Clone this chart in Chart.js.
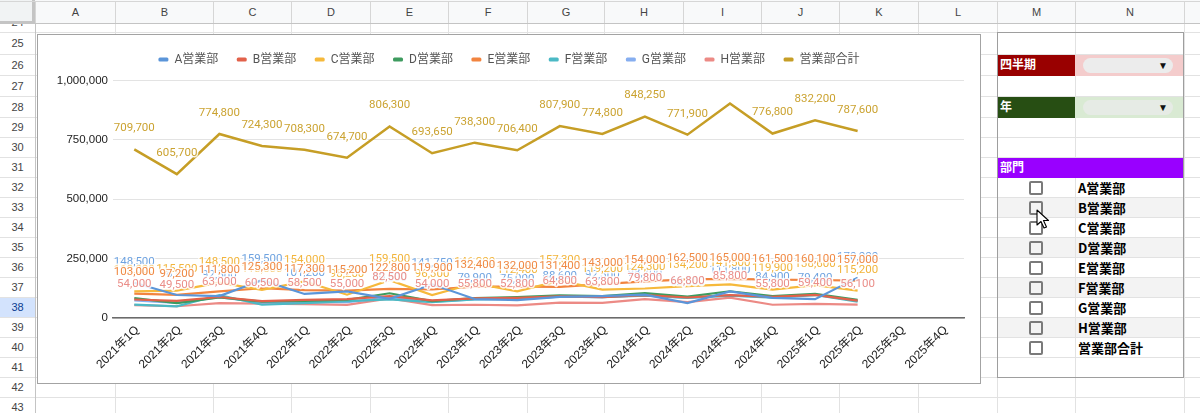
<!DOCTYPE html>
<html><head><meta charset="utf-8">
<script src="https://cdn.jsdelivr.net/npm/chart.js@4"></script>
<style>
html,body{margin:0;padding:0;}
body{width:1200px;height:413px;overflow:hidden;background:#fff;position:relative;font-family:"Liberation Sans",Arial,"Noto Sans CJK JP",sans-serif;}
#sheet{position:absolute;left:0;top:0;width:1200px;height:413px;}
#chartBox{position:absolute;left:37px;top:34px;width:942px;height:348px;border:1px solid #a3a3a3;background:#fff;}
#c{display:block;}
</style></head><body>
<div id="sheet"></div>
<div id="chartBox"><canvas id="c" width="942" height="348" style="width:942px;height:348px"></canvas></div>
<script>
// ---------- data ----------
const quarters = ['2021年1Q','2021年2Q','2021年3Q','2021年4Q','2022年1Q','2022年2Q','2022年3Q','2022年4Q',
  '2023年1Q','2023年2Q','2023年3Q','2023年4Q','2024年1Q','2024年2Q','2024年3Q','2024年4Q',
  '2025年1Q','2025年2Q','2025年3Q','2025年4Q'];
const seriesNames = ['A営業部','B営業部','C営業部','D営業部','E営業部','F営業部','G営業部','H営業部','営業部合計'];
const deptA = [148500,96800,92500,159500,101200,112400,80500,141750,79900,75000,88600,92300,98700,62500,111800,84900,79400,170000];
const deptB = [78000,72000,88400,71200,76400,79200,91800,74200,82600,84800,90800,88200,96400,86400,96300,88600,97200,72800];
const deptC = [112000,115500,148500,118600,154000,98200,159500,96300,146200,112400,157300,119200,124300,134200,141500,119900,138600,115200];
const deptD = [83500,62300,86500,68900,71600,76800,104200,71500,84300,88300,95400,92700,104650,90300,112600,92400,101800,76400];
const deptE = [103000,97200,111800,125300,117300,115200,122800,119900,132400,132000,131400,143000,154000,162500,165000,161500,160100,157000];
const deptF = [56200,48900,96600,55800,62800,71400,78500,66800,78600,80600,89600,87600,94200,84700,94500,86200,96700,68600];
const deptG = [74500,63500,87500,64500,66500,66500,86500,69200,78500,80500,90000,88000,96200,84500,95500,87500,99000,71500];
const deptH = [54000,49500,63000,60500,58500,55000,82500,54000,55800,52800,64800,63800,79800,66800,85800,55800,59400,56100];
const totalAll = [709700,605700,774800,724300,708300,674700,806300,693650,738300,706400,807900,774800,848250,771900,903000,776800,832200,787600];
const totalLabelSkip = [14];
const yTicks = [0,250000,500000,750000,1000000];

// ---------- spreadsheet background ----------
const sheet = document.getElementById('sheet');
function box(x,y,w,h,style,html){
  const d=document.createElement('div');
  d.style.cssText=`position:absolute;left:${x}px;top:${y}px;width:${w}px;height:${h}px;box-sizing:border-box;${style||''}`;
  if(html!=null) d.innerHTML=html;
  sheet.appendChild(d); return d;
}
const colLetters=['A','B','C','D','E','F','G','H','I','J','K','L','M','N','O'];
const colEdges=[35,115,213,291,370,448,527,604,683,761,839,918,997,1075,1184,1290];
const rowNums=[24,25,26,27,28,29,30,31,32,33,34,35,36,37,38,39,40,41,42,43];
const rowEdges=[11,32,54,75,96,117,137,157,177,197,217,237,257,277,297,317,337,357,377,397,417];
for(let i=0;i<colEdges.length;i++) box(colEdges[i],24,1,400,'background:#e2e2e2;');
for(let i=1;i<rowEdges.length;i++) box(0,rowEdges[i],1200,1,'background:#e2e2e2;');
for(let i=0;i<rowNums.length;i++){
  const y0=rowEdges[i], h=rowEdges[i+1]-y0;
  const sel = rowNums[i]===38;
  box(0,y0+1,35,h-1,`background:${sel?'#d3e3fd':'#fff'};color:${sel?'#0b3d91':'#444'};font-size:11px;text-align:center;line-height:${h-1}px;`, String(rowNums[i]));
}
box(35,24,1,400,'background:#c4c4c4;');
box(0,0,1200,24,'background:#f8f9fa;border-bottom:1px solid #c4c4c4;');
box(0,0,35,24,'background:#f1f3f4;border-right:3px solid #c4c4c4;border-bottom:3px solid #c4c4c4;');
for(let i=0;i<colLetters.length;i++){
  const x0=colEdges[i], w=colEdges[i+1]-x0;
  box(x0,2,w,21,'border-left:1px solid #d6d6d6;color:#444;font-size:11px;text-align:center;line-height:21px;',colLetters[i]);
}
box(0,1,1200,1,'background:#d6d6d6;');

// right panel (M..N)
const M0=997,M1=1075,N1=1184;
function rowY(n){const i=rowNums.indexOf(n);return [rowEdges[i],rowEdges[i+1]];}
function chip(y0,bg){
  box(1083,y0+4,90,15,`background:${bg};border-radius:8px;`);
  box(1156,y0+4,14,15,'font-size:10px;line-height:15px;color:#111;text-align:center;','▼');
}
let [a,b]=rowY(26);
box(M0,a+1,M1-M0,b-a,'background:#990000;color:#fff;font-weight:bold;font-size:12px;padding-left:3px;line-height:'+(b-a)+'px;','四半期');
box(M1,a+1,N1-M1,b-a,'background:#f4cccc;'); chip(a,'#ececec');
[a,b]=rowY(28);
box(M0,a+1,M1-M0,b-a,'background:#274e13;color:#fff;font-weight:bold;font-size:12px;padding-left:3px;line-height:'+(b-a)+'px;','年');
box(M1,a+1,N1-M1,b-a,'background:#d9ead3;'); chip(a,'#e6ebe5');
[a,b]=rowY(31);
box(M0,a+1,N1-M0,b-a,'background:#9900ff;color:#fff;font-weight:bold;font-size:12px;padding-left:3px;line-height:'+(b-a)+'px;','部門');
seriesNames.forEach((nm,i)=>{
  const [y0,y1]=rowY(32+i);
  if(i%2===1) box(M0+1,y0+1,N1-M0-1,y1-y0-1,'background:#f3f3f3;');
  box(M1,y0+1,1,y1-y0,'background:#e2e2e2;');
  box(1029,y0+4,14,14,'border:2px solid #7a7a7a;border-radius:2px;background:transparent;');
  box(1078,y0+1,105,y1-y0-1,'color:#000;font-weight:bold;font-size:13px;line-height:'+(y1-y0-1)+'px;font-family:"Noto Sans CJK JP","Liberation Sans",sans-serif;',nm);
});
box(M0,32,N1-M0,377-32+1,'border:1px solid #9e9e9e;');
box(1036,209,14,20,'', '<svg width="14" height="20" viewBox="0 0 14 20"><polygon points="1,1 1,16 5,12.5 8,19 10.5,18 7.5,11.5 12.5,11.5" fill="#fff" stroke="#000" stroke-width="1.1" stroke-linejoin="round"/></svg>');

// ---------- chart ----------
const colors = ['#5b95d9','#e2614a','#f6b93b','#3e9b5f','#f2843f','#4bb9c5','#86aef0','#ec8a85','#c69e26'];
const labelColors = {0:'#6fa3e0',2:'#f2b53c',4:'#f08a45',7:'#ea8e89',8:'#cba331'};
const values = [deptA,deptB,deptC,deptD,deptE,deptF,deptG,deptH,totalAll];
const datasets = values.map((d,i)=>({
  label: seriesNames[i],
  data: d,
  borderColor: colors[i],
  backgroundColor: colors[i],
  borderWidth: i===8 ? 2.5 : 2.2,
  pointRadius: 0,
  pointHoverRadius: 0,
  tension: 0,
  fill: false
}));

const legendSpacer = {
  id:'legendSpacer',
  beforeInit(chart){
    const lg = chart.legend;
    const origFit = lg.fit, origDraw = lg.draw;
    lg.fit = function(){ origFit.call(this); this.height += 5; };
    lg.draw = function(){ const c=this.ctx; c.save(); c.translate(8,0); origDraw.call(this); c.restore(); };
  }
};
const labelOrder = [0,2,4,7,8];
const pointLabels = {
  id:'pointLabels',
  afterDatasetsDraw(chart){
    const ctx = chart.ctx;
    ctx.save();
    ctx.font = '11.5px Roboto, "Noto Sans CJK JP", sans-serif';
    ctx.textAlign = 'center';
    ctx.textBaseline = 'middle';
    ctx.lineJoin = 'round';
    ctx.lineWidth = 3;
    ctx.strokeStyle = 'rgba(255,255,255,0.85)';
    labelOrder.forEach(i=>{
      const meta = chart.getDatasetMeta(i);
      const data = chart.data.datasets[i].data;
      meta.data.forEach((pt,j)=>{
        const v = data[j];
        if(v==null) return;
        if(i===8 && totalLabelSkip.includes(j)) return;
        const t = v.toLocaleString('en-US');
        ctx.strokeText(t, pt.x, pt.y - 21);
        ctx.fillStyle = labelColors[i];
        ctx.fillText(t, pt.x, pt.y - 21);
      });
    });
    ctx.restore();
  }
};

new Chart(document.getElementById('c'), {
  type:'line',
  data:{ labels: quarters, datasets },
  options:{
    responsive:false,
    animation:false,
    events:[],
    layout:{ padding:{ top:0, right:16, bottom:0, left:0 } },
    plugins:{
      legend:{
        position:'top',
        labels:{
          boxWidth:10, boxHeight:4, padding:18.5, color:'#555',
          useBorderRadius:true, borderRadius:1.5,
          font:{ size:12, family:'Roboto, "Noto Sans CJK JP", sans-serif' },
          generateLabels(chart){
            return Chart.defaults.plugins.legend.labels.generateLabels(chart).map(l=>Object.assign(l,{lineWidth:0}));
          }
        }
      },
      tooltip:{ enabled:false }
    },
    scales:{
      x:{
        offset:true,
        grid:{ display:false, drawTicks:false, offset:true },
        border:{ display:true, color:'#6b6b6b', width:1.5 },
        ticks:{ autoSkip:false, maxRotation:45, minRotation:45, padding:5, labelOffset:3, color:'#222',
          font:{ size:12, family:'"Liberation Sans", Arial, "Noto Sans CJK JP", sans-serif' } },
        afterFit(s){ s.height = 65; }
      },
      y:{
        min: yTicks[0], max: yTicks[yTicks.length-1],
        afterBuildTicks(s){ s.ticks = yTicks.map(v=>({value:v})); },
        ticks:{ padding:5, color:'#222',
          font:{ size:11.5, family:'"Liberation Sans", Arial, sans-serif' },
          callback:v=>v.toLocaleString('en-US') },
        grid:{ color:'#e3e3e3', drawTicks:false },
        border:{ display:false },
        afterFit(s){ s.width = 75; }
      }
    }
  },
  plugins:[legendSpacer, pointLabels]
});
</script>
</body></html>
